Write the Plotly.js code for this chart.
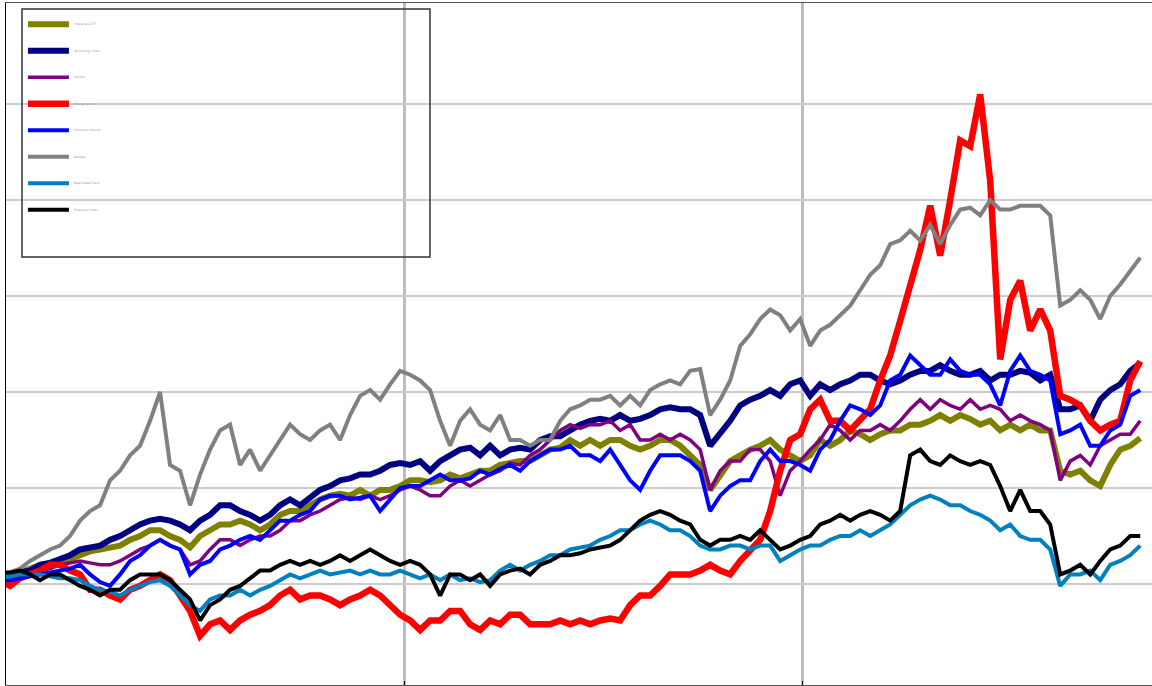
<!DOCTYPE html>
<html>
<head>
<meta charset="utf-8">
<script src="https://cdn.plot.ly/plotly-3.0.1.min.js"></script>
<style>
html,body{margin:0;padding:0;overflow:hidden;background:#fff;}
#chart{width:1260px;height:686px;}
</style>
</head>
<body>
<div id="chart"></div>
<script>
// sampling grid (decimal years)
const START = 2015.985;
const STEP = 0.02513;
const N_POINTS = 115;

const seriesNames = [
  "Industrials ETF",
  "Technology Index",
  "Utilities",
  "Energy Sector",
  "Consumer Discret.",
  "Nasdaq",
  "Real Estate Fund",
  "Financials Index"
];
const seriesColors = ["#808000", "#000080", "#800080", "#FF0000", "#0000FF", "#808080", "#0080C0", "#000000"];
const seriesWidths = [6, 6, 3.5, 6.5, 4, 4, 4, 4];

const olive = [103,105,106,108,110,111,112,113,115,117,
118,119,120,123,125,128,128,125,123,119,
125,128,131,131,133,131,128,131,136,138,
138,141,144,146,147,146,149,146,149,149,
151,154,154,153,154,157,155,157,159,159,
162,163,164,164,167,170,171,175,172,175,
172,175,175,172,170,172,175,175,172,167,
162,149,157,164,167,170,172,175,170,167,
164,167,175,172,175,180,178,175,178,180,
180,183,183,185,188,185,188,186,183,185,
180,183,180,183,180,180,159,157,159,154,
151,162,170,172,176];

const navy = [103,104,106,107,110,111,113,115,118,119,
120,123,125,128,131,133,134,133,131,128,
133,136,141,141,138,136,133,136,141,144,
141,145,149,151,154,155,157,157,159,162,
163,162,164,159,164,167,170,171,167,172,
167,170,171,170,175,177,177,180,183,185,
186,185,188,185,186,188,191,192,191,191,
188,172,178,185,193,196,198,201,198,204,
206,198,204,201,204,206,209,209,206,204,
206,209,211,211,214,211,209,209,211,206,
209,209,211,210,206,209,191,191,193,185,
196,201,204,211,215];

const purple = [102,103,105,106,107,108,110,111,112,111,
110,110,112,115,118,120,123,120,118,110,
112,118,123,123,120,123,125,125,128,133,
133,136,138,141,144,145,144,146,144,146,
149,151,149,146,146,151,154,151,154,157,
159,163,162,167,170,175,180,183,181,183,
183,185,180,183,175,175,178,175,178,175,
170,149,159,164,164,170,170,164,146,159,
164,170,175,183,180,175,180,180,183,180,
185,191,196,191,196,193,191,196,191,193,
191,185,188,185,183,180,154,164,167,162,
172,175,178,178,185];

const red = [102,99,103,105,107,110,110,107,105,97,
97,94,92,97,99,102,105,102,94,86,
73,79,81,76,81,84,86,89,94,97,
92,94,94,92,89,92,94,97,94,89,
84,81,76,81,81,86,86,79,76,81,
79,84,84,79,79,79,81,79,81,79,
81,82,81,89,94,94,99,105,105,105,
107,110,107,105,112,118,123,138,159,175,
178,191,196,185,185,180,185,191,206,219,
237,256,274,297,271,300,331,328,355,310,
217,248,258,232,243,232,198,196,193,185,
180,183,185,206,216];

const blue = [102,102,103,104,105,106,107,108,110,105,
101,99,105,112,115,120,123,120,118,105,
110,112,118,120,123,125,123,128,133,133,
136,138,144,146,146,144,145,146,138,144,
150,151,151,154,157,154,154,155,159,157,
160,162,159,164,167,170,170,172,167,167,
164,170,162,154,149,159,167,167,167,164,
159,138,146,151,154,154,164,170,164,164,
162,159,170,175,185,193,191,188,193,206,
209,219,214,209,209,217,211,209,209,204,
193,211,219,211,209,206,178,180,183,172,
172,180,183,198,201];

const gray = [105,106,108,112,115,118,120,125,133,138,
141,154,159,167,172,185,200,162,159,141,
157,170,180,183,162,170,159,167,175,183,
178,175,180,183,175,188,198,201,196,204,
211,209,206,201,185,172,185,191,183,180,
188,175,175,172,175,175,185,191,193,196,
196,198,193,198,193,201,204,206,204,211,
212,188,196,206,224,230,238,243,240,232,
238,224,232,235,240,245,253,261,266,277,
279,284,279,287,277,287,295,296,292,300,
295,295,297,297,297,292,245,248,253,248,
238,250,256,263,270];

const teal = [103,104,105,105,105,104,103,103,102,99,
97,96,94,97,99,101,102,99,94,89,
86,92,94,94,97,94,97,99,102,105,
103,105,107,105,106,107,105,107,105,105,
107,105,103,105,102,105,102,103,101,102,
107,110,107,110,112,115,115,118,119,120,
123,125,128,128,131,133,131,128,128,125,
120,118,118,120,120,118,120,120,112,115,
118,120,120,123,125,125,128,125,128,131,
136,141,144,146,144,141,141,138,136,133,
128,131,125,123,123,118,99,105,105,107,
102,110,112,115,120];

const black = [106,106,107,105,102,105,105,102,99,97,
94,97,97,102,105,105,105,102,97,92,
81,89,92,97,99,103,107,107,110,112,
110,112,110,112,115,112,115,118,115,112,
110,112,110,105,94,105,105,102,105,99,
105,107,108,105,110,112,115,115,116,118,
119,120,123,128,133,136,138,136,133,131,
123,120,123,123,125,123,128,123,118,120,
123,125,131,133,136,133,136,138,136,133,
138,167,170,164,162,167,164,162,164,162,
151,138,149,138,138,131,105,107,110,105,
112,118,120,125,125];

const xTickVals = [2016, 2017, 2018, 2019];
const yTickVals = [100, 150, 200, 250, 300, 350];

const allSeries = [olive, navy, purple, red, blue, gray, teal, black];
const xs = [];
for (let i = 0; i < N_POINTS; i++) xs.push(START + i * STEP);

const traces = allSeries.map((ys, k) => ({
  type: 'scatter',
  mode: 'lines',
  x: xs,
  y: ys,
  name: seriesNames[k],
  legendgroup: 'g' + k,
  line: {color: seriesColors[k], width: seriesWidths[k]},
  hoverinfo: 'skip'
}));

const layout = {
  width: 1260,
  height: 686,
  margin: {l: 6, r: 0, t: 3, b: 1, pad: 0},
  paper_bgcolor: '#ffffff',
  plot_bgcolor: '#ffffff',
  showlegend: true,
  legend: {
    x: 0.0135, y: 0.99, xanchor: 'left', yanchor: 'top',
    bgcolor: 'rgba(0,0,0,0)', borderwidth: 0,
    font: {family: 'DejaVu Sans', size: 3, color: '#999999'},
    itemwidth: 41,
    tracegroupgap: 7.5,
    traceorder: 'grouped',
    entrywidth: 360
  },
  xaxis: {
    range: [2016, 2016 + 1254 / 398],
    tickmode: 'array', tickvals: xTickVals,
    showticklabels: false,
    showgrid: true, gridcolor: '#bdbdbd', gridwidth: 3,
    zeroline: false,
    showline: true, linecolor: '#555555', linewidth: 1.5, mirror: true,
    ticks: 'inside', ticklen: 4, tickcolor: '#000000', tickwidth: 1
  },
  yaxis: {
    range: [47.4, 402.6],
    tickmode: 'array', tickvals: yTickVals,
    showticklabels: false,
    showgrid: true, gridcolor: '#cccccc', gridwidth: 1.5,
    zeroline: false,
    showline: true, linecolor: '#000000', linewidth: 1.5, mirror: true,
    ticks: ''
  },
  shapes: [{
    type: 'rect', xref: 'paper', yref: 'paper',
    x0: 0.01276, x1: 0.3381, y0: 0.6276, y1: 0.9912,
    line: {color: '#333333', width: 1.5},
    fillcolor: 'rgba(0,0,0,0)', layer: 'above'
  }]
};

Plotly.newPlot('chart', traces, layout, {displayModeBar: false, staticPlot: true});
</script>
</body>
</html>
